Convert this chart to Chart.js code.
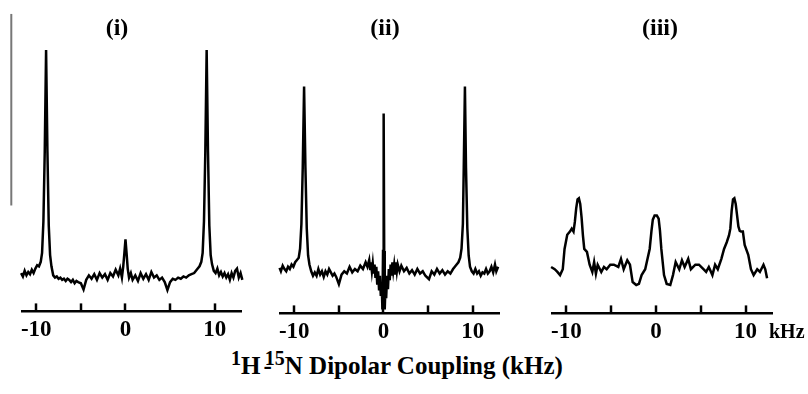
<!DOCTYPE html>
<html>
<head>
<meta charset="utf-8">
<script src="https://cdn.jsdelivr.net/npm/chart.js@4.4.0/dist/chart.umd.min.js"></script>
<style>
  body { margin: 0; background: #fff; width: 808px; height: 394px; position: relative; overflow: hidden;
         font-family: "Liberation Serif", "Times New Roman", serif; color: #000; }
  .panel { position: absolute; top: 0; height: 345px; }
  .ttl { position: absolute; top: 14px; width: 80px; margin-left: -40px; text-align: center;
         font-weight: bold; font-size: 24px; line-height: 26px; }
  #unit { position: absolute; left: 769px; top: 320px; font-weight: bold; font-size: 20px; }
  #xlabel { position: absolute; left: 231px; top: 352px; font-weight: bold; font-size: 25px; white-space: nowrap; }
  #xlabel .sup { position: relative; top: -9px; font-size: 20px; }
  #xlabel .dash { margin: 0 -7px 0 3px; }
</style>
</head>
<body>
<div class="panel" style="left:0;width:262px"><canvas id="c1" width="262" height="345"></canvas></div>
<div class="panel" style="left:262px;width:262px"><canvas id="c2" width="262" height="345"></canvas></div>
<div class="panel" style="left:524px;width:284px"><canvas id="c3" width="284" height="345"></canvas></div>
<div class="ttl" style="left:117px">(i)</div>
<div class="ttl" style="left:385px">(ii)</div>
<div class="ttl" style="left:660px">(iii)</div>
<div id="unit">kHz</div>
<div id="xlabel"><span class="sup">1</span>H<span class="dash">-</span><span class="sup">15</span>N Dipolar Coupling (kHz)</div>
<script>
// ===== DATA (kHz vs intensity) =====
const tickValues = [-10, -5, 0, 5, 10];
const tickLabels = ['-10', '', '0', '', '10'];

// (i)
const freqI = [-12.7,-12.5,-12.3,-12.1,-11.9,-11.7,-11.5,-11.3,-11.1,-10.9,-10.7,-10.5,-10.3,-10.1,-9.9,-9.7,-9.5,-9.35,-9.2,-9.05,-8.9,-8.75,-8.6,-8.45,-8.3,-8.1,-7.9,-7.7,-7.5,-7.3,-7.1,-6.9,-6.7,-6.5,-6.3,-6.1,-5.9,-5.7,-5.5,-5.3,-5.0,-4.7,-4.4,-4.1,-3.8,-3.5,-3.2,-2.9,-2.6,-2.3,-2.0,-1.7,-1.4,-1.1,-0.8,-0.6,-0.4,-0.25,-0.12,0,0.12,0.25,0.4,0.6,0.8,1.1,1.4,1.7,2.0,2.3,2.6,2.9,3.2,3.5,3.8,4.1,4.4,4.7,5.0,5.3,5.6,5.9,6.2,6.5,6.8,7.1,7.4,7.7,7.9,8.1,8.3,8.5,8.65,8.8,8.95,9.1,9.25,9.4,9.55,9.7,9.9,10.1,10.3,10.5,10.7,10.9,11.1,11.3,11.5,11.7,11.9,12.1,12.3,12.5,12.7,12.9,13.1];
const intI  = [0,2,-1,1.5,-2,1,-0.5,2,0,1.5,0.5,2.5,1,3,4.5,4,6,10,24,55,100,55,22,9,4,0,-1,-0.5,-1.5,-1,-2,-1.5,-2.5,-1.5,-2,-3,-2,-3.5,-2.5,-3,-3.5,-6.3,-2,0,-1.5,0.5,-2,1,-1,0.5,-2,1,-0.5,2.5,0,3,-1,4,10,16,10,3,-1,1,-2,0,-2.5,1,-1.5,0.5,-2,1.5,-1,0,-2,-1,-3,-6.5,-3,-1.5,-2,-1,-1.5,-0.5,-1,0,0.5,1,2,3,4,6,10,24,55,100,55,22,9,5,2,1,3,0,1.5,-0.5,1,-1,0.5,-2,1,-1,2,3,-1,1,-2];
const scaleBarFreq = [-12.8, -12.8];
const scaleBarInt  = [31, 116];

// (ii)
const freqII = [-12.7,-12.55,-12.4,-12.25,-12.1,-11.95,-11.8,-11.65,-11.5,-11.3,-11.1,-10.9,-10.7,-10.5,-10.3,-10.1,-9.9,-9.7,-9.5,-9.35,-9.2,-9.05,-8.9,-8.75,-8.6,-8.45,-8.3,-8.1,-7.9,-7.7,-7.5,-7.3,-7.1,-6.9,-6.7,-6.5,-6.3,-6.1,-5.9,-5.7,-5.5,-5.3,-5.0,-4.7,-4.4,-4.1,-3.8,-3.5,-3.2,-2.9,-2.6,-2.3,-2.0,-1.8,-1.6,-1.5,-1.4,-1.3,-1.2,-1.1,-1.0,-0.9,-0.8,-0.7,-0.6,-0.5,-0.4,-0.3,-0.2,-0.12,-0.05,0.02,0.08,0.14,0.22,0.3,0.4,0.5,0.6,0.7,0.8,0.9,1.0,1.1,1.2,1.3,1.4,1.5,1.6,1.8,2.0,2.3,2.6,2.9,3.2,3.5,3.8,4.1,4.4,4.7,5.1,5.4,5.7,6.0,6.3,6.6,6.9,7.2,7.5,7.8,8.0,8.2,8.4,8.6,8.75,8.9,9.0,9.13,9.25,9.4,9.55,9.7,9.9,10.1,10.3,10.5,10.7,10.9,11.1,11.3,11.5,11.7,11.9,12.1,12.3,12.5,12.65,12.85];
const intII  = [0,3,-1,2,-2,1,-1.5,0.5,-1,1.5,0,-1,1,0,2,1,3,4,5,9,20,45,81,45,18,6,2,-1,-3,-1.5,-3,0,-2.5,-1,-3.5,-1,-2.5,0,-1.5,-3,-2,-3.5,-6.7,-2.5,-1,-2,1,-1.5,0,-1,1.5,0,3,1,4,0,3,-1,2.5,-2,2,-4,1,-7,-1,-9,-3,-12,-6,-18,8,69,8,-18,-8,-13,-3,-9,0,-5,2,-3,3,-1,2,-2,3,-1,2,-1,1.5,-1,0.5,-2,-0.5,-2.5,0,-2,-1,-3,-4.5,-1,-2.5,0,-2,-0.5,-2.5,-1,-2,0,1,2,3,5,9,20,45,81,45,18,6,1,-1,-2,0,-2,-1,-3,-1.5,-2,0,-2,-1,1,-1.5,2,-1,1];

// (iii)
const freqIII = [-13.3,-12.9,-12.5,-12.0,-11.7,-11.3,-11.0,-10.7,-10.4,-10.2,-9.9,-9.6,-9.4,-9.2,-9.05,-8.9,-8.75,-8.6,-8.45,-8.3,-8.15,-8.0,-7.7,-7.4,-7.1,-6.9,-6.7,-6.5,-6.1,-5.8,-5.5,-5.1,-4.7,-4.2,-3.9,-3.6,-3.2,-2.9,-2.6,-2.2,-1.9,-1.6,-1.2,-0.7,-0.5,-0.35,-0.15,0.1,0.3,0.45,0.6,0.9,1.2,1.6,1.9,2.2,2.6,2.9,3.2,3.6,3.9,4.4,4.8,5.3,5.6,5.9,6.3,6.6,6.9,7.3,7.6,7.9,8.15,8.3,8.45,8.6,8.75,8.9,9.05,9.2,9.35,9.5,9.7,9.9,10.3,10.6,10.9,11.3,11.6,12.0,12.2,12.4];
const intIII  = [-5,-3.5,-2.5,1,0,-1,-2.2,-3.6,-1,8,14.3,15.7,17,15.7,20,26,30,30.5,28,22,14,8,6.7,1,-2.2,2.2,-3,1,-2.2,0,-1,1,1,0,3.6,-1,3,1,-6.7,-8,-7.5,-3.6,-1,8,16,21,22.8,22.8,21.5,16,8,-3.6,-7.5,-8,-3.6,2.2,-1,3,0,3.6,-1,1,1,-1,-2.2,0,-3.6,1,-1,3.6,8,11,14,17,25,30,30.5,28,23,18,16,15.7,15.7,9.8,5.4,-1,-3.6,-1,-2.2,1,-1,-5];

// ===== CHART BUILDER =====
function pts(xs, ys) { return xs.map((x, i) => ({ x, y: ys[i] })); }

// tick marks point up from the axis line, as in the figure
const upTicks = {
  id: 'upTicks',
  afterDraw(chart) {
    const s = chart.scales.x, ctx = chart.ctx;
    const y0 = chart.chartArea.bottom;
    ctx.save();
    ctx.strokeStyle = '#000';
    ctx.lineWidth = 2.5;
    tickValues.forEach(v => {
      const px = Math.round(s.getPixelForValue(v));
      ctx.beginPath();
      ctx.moveTo(px, y0);
      ctx.lineTo(px, y0 - 8);
      ctx.stroke();
    });
    ctx.restore();
  }
};

function makePanel(id, datasets, yMin, yMax, padL, padR, axisY) {
  const canvas = document.getElementById(id);
  const axisH = 40; // tick labels + padding below the axis line
  return new Chart(canvas, {
    type: 'line',
    data: { datasets },
    plugins: [upTicks],
    options: {
      responsive: false,
      animation: false,
      devicePixelRatio: 1,
      layout: { padding: { left: padL, right: padR, top: 50, bottom: canvas.height - axisH - axisY } },
      plugins: { legend: { display: false }, tooltip: { enabled: false }, title: { display: false } },
      elements: { point: { radius: 0 }, line: { tension: 0 } },
      scales: {
        x: {
          type: 'linear', min: -11.6, max: 12.95,
          afterBuildTicks: s => { s.ticks = tickValues.map(v => ({ value: v })); },
          border: { display: true, color: '#000', width: 2.5 },
          grid: { display: false, drawTicks: false },
          ticks: {
            autoSkip: false, maxRotation: 0, padding: 5, color: '#000',
            font: { family: 'Liberation Serif', size: 23, weight: 'bold' },
            callback: (v, i) => tickLabels[i]
          }
        },
        y: { display: false, min: yMin, max: yMax }
      }
    }
  });
}

const line = (data, color, width) => ({ data, borderColor: color, borderWidth: width, clip: false, fill: false });

makePanel('c1', [
  line(pts(freqI, intI), '#000', 2.5),
  line(pts(scaleBarFreq, scaleBarInt), '#777', 2)
], -16, 100, 22, 21, 309);

makePanel('c2', [line(pts(freqII, intII), '#000', 2.5)], -19.7, 97.2, 18, 25, 311);

makePanel('c3', [line(pts(freqIII, intIII), '#000', 2.5)], -20.6, 96.3, 28, 36, 311);
</script>
</body>
</html>
